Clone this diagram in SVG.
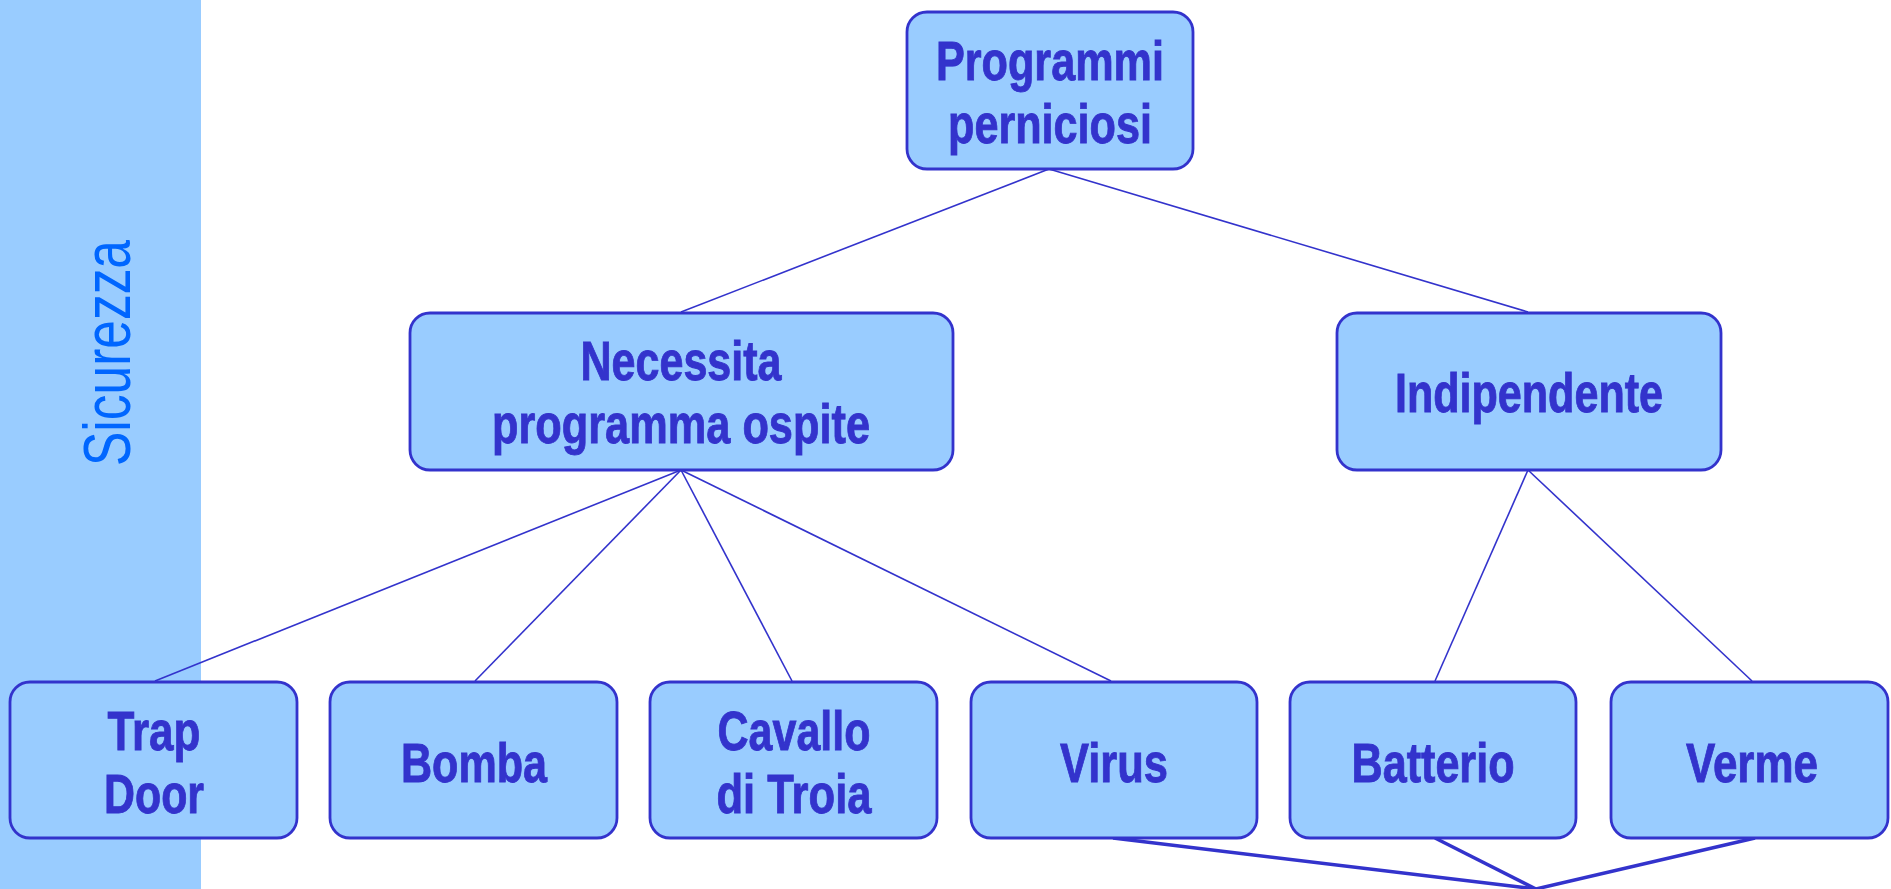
<svg xmlns="http://www.w3.org/2000/svg" width="1891" height="889" viewBox="0 0 1891 889">
  <style>
    .box { fill: #99CCFF; stroke: #3333CC; stroke-width: 2.8; }
    .lbl { font-family: "Liberation Sans", Arial, sans-serif; font-weight: bold; font-size: 56px; fill: #3333CC; stroke: #3333CC; stroke-width: 0.9; text-anchor: middle; }
    .edge { stroke: #3333CC; stroke-width: 1.6; fill: none; }
    .edge2 { stroke: #3333CC; stroke-width: 3.5; fill: none; }
    .side { font-family: "Liberation Sans", Arial, sans-serif; font-size: 67px; fill: #0066FF; }
  </style>
  <rect x="0" y="0" width="1891" height="889" fill="#FFFFFF"/>
  <rect x="0" y="0" width="201" height="889" fill="#99CCFF"/>
  <text class="side" transform="translate(130,466) rotate(-90)" x="0" y="0" textLength="226" lengthAdjust="spacingAndGlyphs">Sicurezza</text>

  <g id="connectors">
    <line class="edge" x1="1049" y1="169" x2="681" y2="312"/>
    <line class="edge" x1="1049" y1="169" x2="1528" y2="312"/>
    <line class="edge" x1="681" y1="470" x2="155" y2="681"/>
    <line class="edge" x1="681" y1="470" x2="475" y2="681"/>
    <line class="edge" x1="681" y1="470" x2="792" y2="681"/>
    <line class="edge" x1="681" y1="470" x2="1111" y2="681"/>
    <line class="edge" x1="1528" y1="470" x2="1435" y2="681"/>
    <line class="edge" x1="1528" y1="470" x2="1752" y2="681"/>
    <line class="edge2" x1="1113" y1="838" x2="1536" y2="889"/>
    <line class="edge2" x1="1435" y1="838" x2="1536" y2="889"/>
    <line class="edge2" x1="1755" y1="838" x2="1536" y2="889"/>
  </g>

  <g id="programmi">
    <rect class="box" x="907" y="12" width="286" height="157" rx="20"/>
    <text class="lbl" x="1050" y="80" textLength="228" lengthAdjust="spacingAndGlyphs">Programmi</text>
    <text class="lbl" x="1050" y="143" textLength="204" lengthAdjust="spacingAndGlyphs">perniciosi</text>
  </g>
  <g id="necessita">
    <rect class="box" x="410" y="313" width="543" height="157" rx="20"/>
    <text class="lbl" x="681" y="380" textLength="201" lengthAdjust="spacingAndGlyphs">Necessita</text>
    <text class="lbl" x="681" y="443" textLength="378" lengthAdjust="spacingAndGlyphs">programma ospite</text>
  </g>
  <g id="indipendente">
    <rect class="box" x="1337" y="313" width="384" height="157" rx="20"/>
    <text class="lbl" x="1529" y="412" textLength="268" lengthAdjust="spacingAndGlyphs">Indipendente</text>
  </g>
  <g id="trapdoor">
    <rect class="box" x="10" y="682" width="287" height="156" rx="20"/>
    <text class="lbl" x="154" y="750" textLength="93" lengthAdjust="spacingAndGlyphs">Trap</text>
    <text class="lbl" x="154" y="813" textLength="100" lengthAdjust="spacingAndGlyphs">Door</text>
  </g>
  <g id="bomba">
    <rect class="box" x="330" y="682" width="287" height="156" rx="20"/>
    <text class="lbl" x="474" y="782" textLength="146" lengthAdjust="spacingAndGlyphs">Bomba</text>
  </g>
  <g id="cavallo">
    <rect class="box" x="650" y="682" width="287" height="156" rx="20"/>
    <text class="lbl" x="794" y="750" textLength="153" lengthAdjust="spacingAndGlyphs">Cavallo</text>
    <text class="lbl" x="794" y="813" textLength="155" lengthAdjust="spacingAndGlyphs">di Troia</text>
  </g>
  <g id="virus">
    <rect class="box" x="971" y="682" width="286" height="156" rx="20"/>
    <text class="lbl" x="1114" y="782" textLength="108" lengthAdjust="spacingAndGlyphs">Virus</text>
  </g>
  <g id="batterio">
    <rect class="box" x="1290" y="682" width="286" height="156" rx="20"/>
    <text class="lbl" x="1433" y="782" textLength="163" lengthAdjust="spacingAndGlyphs">Batterio</text>
  </g>
  <g id="verme">
    <rect class="box" x="1611" y="682" width="277" height="156" rx="20"/>
    <text class="lbl" x="1752" y="782" textLength="132" lengthAdjust="spacingAndGlyphs">Verme</text>
  </g>
</svg>
